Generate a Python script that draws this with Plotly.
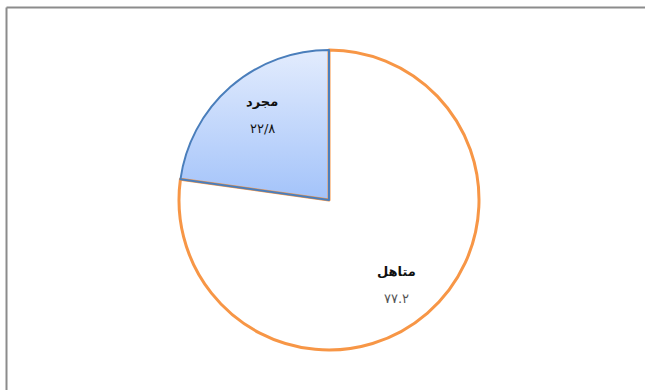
import numpy as np
import plotly.graph_objects as go

# Marital status shares (percent)
labels = ["متاهل", "مجرد"]
values = [77.2, 22.8]
value_text = ["٧٧.٢", "٢٢/٨"]

fill_colors = ["#ffffff", "rgba(0,0,0,0)"]
line_colors = ["#f79646", "#4a7ebb"]
line_widths = [3, 2]

W, H = 645, 390
# pie geometry in pixels (domain box of the pie)
left, right, top, bottom = 179, 479, 49, 351
cx, cy = (left + right) / 2, (top + bottom) / 2
radius = min(right - left, bottom - top) / 2

fig = go.Figure()

# Gradient fill underneath the "مجرد" slice, swept from 12 o'clock counter-clockwise
share = values[1] / sum(values)
theta = np.linspace(0, 2 * np.pi * share, 80)
px = np.concatenate([[cx], cx - radius * np.sin(theta), [cx]])
py = np.concatenate([[cy], cy - radius * np.cos(theta), [cy]])
fig.add_trace(go.Scatter(
    x=px, y=py, mode="lines", line=dict(width=0),
    fill="toself",
    fillgradient=dict(type="vertical",
                      colorscale=[[0, "#a3c3fa"], [1, "#e3ecfd"]],
                      start=cy, stop=top),
    hoverinfo="skip", showlegend=False,
))

fig.add_trace(go.Pie(
    labels=labels,
    values=values,
    sort=False,
    direction="clockwise",
    rotation=0,
    marker=dict(colors=fill_colors, line=dict(color=line_colors, width=line_widths)),
    textinfo="none",
    hoverinfo="label+value",
    showlegend=False,
    domain=dict(x=[left / W, right / W], y=[1 - bottom / H, 1 - top / H]),
))

# Slice labels: category name above, value below
label_pos = {"مجرد": (262, 101, 128, "#111111"), "متاهل": (396, 271, 298, "#555555")}
for name, txt in zip(labels, value_text):
    x, y_name, y_val, vcol = label_pos[name]
    fig.add_annotation(x=x, y=y_name, xref="x", yref="y", text=f"<b>{name}</b>",
                       showarrow=False, font=dict(family="DejaVu Sans", size=13, color="#111111"))
    fig.add_annotation(x=x, y=y_val, xref="x", yref="y", text=txt,
                       showarrow=False, font=dict(family="DejaVu Sans", size=13, color=vcol))

# Chart frame (top and left edges)
frame = dict(color="#8c8c8c", width=2)
fig.add_shape(type="line", xref="x", yref="y", x0=6.5, x1=W, y0=7.5, y1=7.5, line=frame)
fig.add_shape(type="line", xref="x", yref="y", x0=6.5, x1=6.5, y0=7.5, y1=H, line=frame)

fig.update_layout(
    width=W,
    height=H,
    margin=dict(l=0, r=0, t=0, b=0),
    paper_bgcolor="#ffffff",
    plot_bgcolor="#ffffff",
    xaxis=dict(range=[0, W], visible=False, domain=[0, 1], fixedrange=True),
    yaxis=dict(range=[H, 0], visible=False, domain=[0, 1], fixedrange=True),
)

fig.write_html("out.html")
